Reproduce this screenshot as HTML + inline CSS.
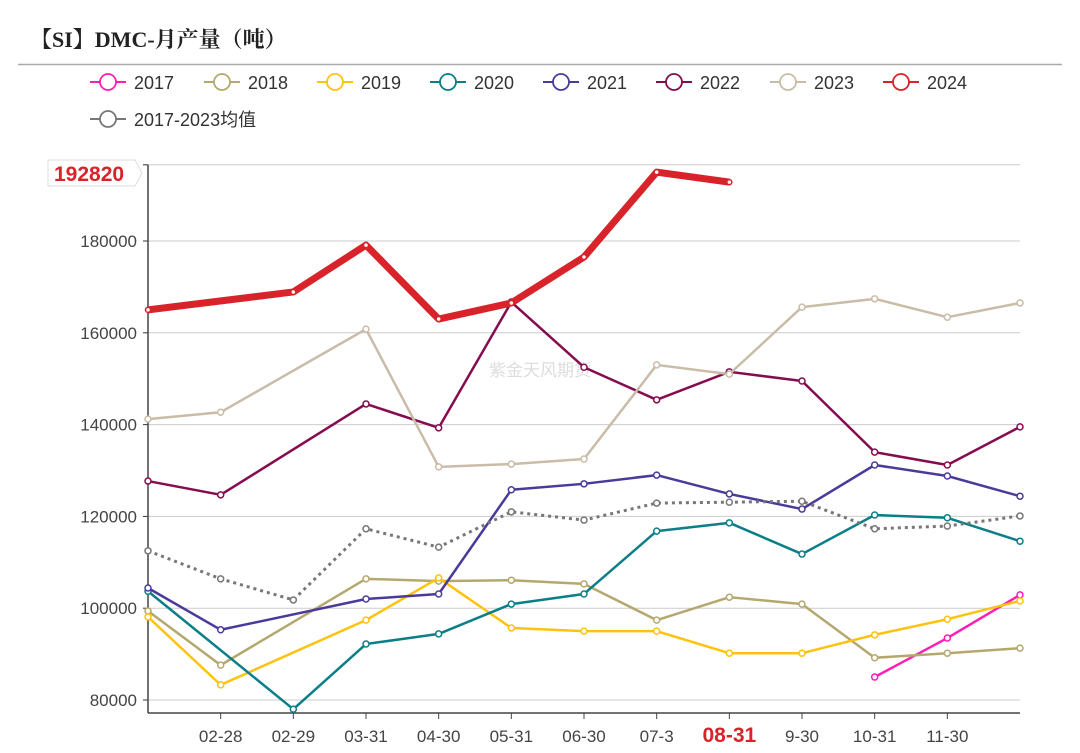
<!DOCTYPE html>
<html><head><meta charset="utf-8"><style>
body{margin:0;background:#fff;width:1080px;height:753px;overflow:hidden;font-family:"Liberation Sans","Noto Sans CJK SC",sans-serif}
</style></head><body>
<svg id="c" width="1080" height="753" style="position:absolute;left:0;top:0"></svg>
<script>
const categories=["01-31","02-28","02-29","03-31","04-30","05-31","06-30","07-3","08-31","9-30","10-31","11-30","12-31"];
const s2017=[null,null,null,null,null,null,null,null,null,null,85000,93500,102900];
const s2018=[99400,87600,null,106400,105900,106100,105300,97400,102400,100900,89200,90200,91300];
const s2019=[98100,83300,null,97400,106600,95700,95000,95000,90200,90200,94200,97600,101600];
const s2020=[103700,null,78000,92200,94400,100900,103100,116800,118600,111800,120300,119700,114600];
const s2021=[104400,95300,null,102000,103100,125800,127100,129000,124900,121600,131200,128800,124400];
const s2022=[127700,124700,null,144500,139300,166700,152500,145400,151500,149500,134000,131200,139500];
const s2023=[141200,142700,null,160800,130800,131400,132500,153000,151000,165600,167400,163400,166500];
const s2024=[165000,null,168900,179100,163000,166500,176500,195000,192820,null,null,null,null];
const sAvg=[112500,106400,101800,117300,113300,121000,119200,122900,123100,123300,117300,117900,120100];
const yTicks=[80000,100000,120000,140000,160000,180000,196600];
const seriesNames=["2017","2018","2019","2020","2021","2022","2023","2024","2017-2023均值"];
const NS="http://www.w3.org/2000/svg";
const svg=document.getElementById('c');
const X0=148,X1=1020,Y0=713,Ymin=77170,Ymax=196600,Ytop=164.8;
const x=i=>X0+i*(X1-X0)/(categories.length-1);
const y=v=>Y0-(v-Ymin)/(Ymax-Ymin)*(Y0-Ytop);
function el(t,a,p){const e=document.createElementNS(NS,t);for(const k in a)e.setAttribute(k,a[k]);(p||svg).appendChild(e);return e;}
// title
let t=el('text',{x:30,y:47,'font-size':22,'font-weight':'bold',fill:'#222','font-family':'"Liberation Serif","Noto Serif CJK SC",serif'});t.textContent='【SI】DMC-月产量（吨）';


let hl=el('line',{x1:18,x2:1062,y1:64.5,y2:64.5,stroke:'#aaa','stroke-width':1.5});


// watermark
let wm=el('text',{x:540,y:376,'font-size':17,fill:'#ddd','text-anchor':'middle'});wm.textContent='紫金天风期货';


// grid & y labels
yTicks.forEach(v=>{
 const g=el('line',{x1:X0,x2:X1,y1:y(v),y2:y(v),stroke:'#ccc','stroke-width':1});
 
 
 el('line',{x1:X0-5,x2:X0,y1:y(v),y2:y(v),stroke:'#333'});
 const l=el('text',{x:137,y:y(v)+6,'font-size':17,fill:'#444','text-anchor':'end'});l.textContent=v;
 
 
});
const ax=el('line',{x1:X0,x2:X0,y1:Ytop,y2:Y0,stroke:'#444','stroke-width':1.5});


const axx=el('line',{x1:X0,x2:X1,y1:Y0,y2:Y0,stroke:'#444','stroke-width':1.5});


categories.forEach((c,i)=>{
 if(i==0||i==categories.length-1)return;
 el('line',{x1:x(i),x2:x(i),y1:Y0,y2:Y0+6,stroke:'#444'});
 const hi=c==='08-31';
 const l=el('text',{x:x(i),y:742,'font-size':hi?21:17,'font-weight':hi?'bold':'normal',fill:hi?'#d9232a':'#444','text-anchor':'middle'});l.textContent=c;
 
 
});
function draw(data,color,name,opt={}){
 const g=el('g',{});
 
 
 const pts=[];data.forEach((v,i)=>{if(v!=null)pts.push([x(i),y(v)])});
 el('polyline',{points:pts.map(p=>p.join(',')).join(' '),fill:'none',stroke:color,'stroke-width':opt.w||2.5,'stroke-dasharray':opt.dash||'','stroke-linejoin':'round'},g);
 pts.forEach(p=>el('circle',{cx:p[0],cy:p[1],r:opt.r||3,fill:'#fff',stroke:color,'stroke-width':1.5},g));
}
const cols=['#ff1fb4','#b5a86e','#ffc20e','#0a7f87','#4c3a9b','#850c4f','#c9bca8','#d9232a','#777'];
draw(s2017,cols[0],'series-2017');
draw(s2018,cols[1],'series-2018');
draw(s2019,cols[2],'series-2019');
draw(s2020,cols[3],'series-2020');
draw(s2021,cols[4],'series-2021');
draw(s2022,cols[5],'series-2022');
draw(s2023,cols[6],'series-2023');
draw(sAvg,cols[8],'series-average',{dash:'3,4',w:3});
draw(s2024,cols[7],'series-2024',{w:7,r:2.5});
// latest value tag
const tag=el('g',{});


el('path',{d:'M48,160 H135 L142,173 L135,186 H48 Z',fill:'#fff',stroke:'#ddd'},tag);
const tv=el('text',{x:54,y:181,'font-size':21,'font-weight':'bold',fill:'#d9232a'},tag);tv.textContent=s2024[8];
// legend
const lp=[[90,82],[204,82],[317,82],[430,82],[543,82],[656,82],[770,82],[883,82],[90,119]];
seriesNames.forEach((n,i)=>{
 const g=el('g',{});
 
 
 const [lx,ly]=lp[i];
 el('line',{x1:lx,x2:lx+36,y1:ly,y2:ly,stroke:cols[i],'stroke-width':2},g);
 el('circle',{cx:lx+18,cy:ly,r:8,fill:'#fff',stroke:cols[i],'stroke-width':1.8},g);
 const l=el('text',{x:lx+44,y:ly+7,'font-size':18,fill:'#333'},g);l.textContent=n;
});
</script>
</body></html>
